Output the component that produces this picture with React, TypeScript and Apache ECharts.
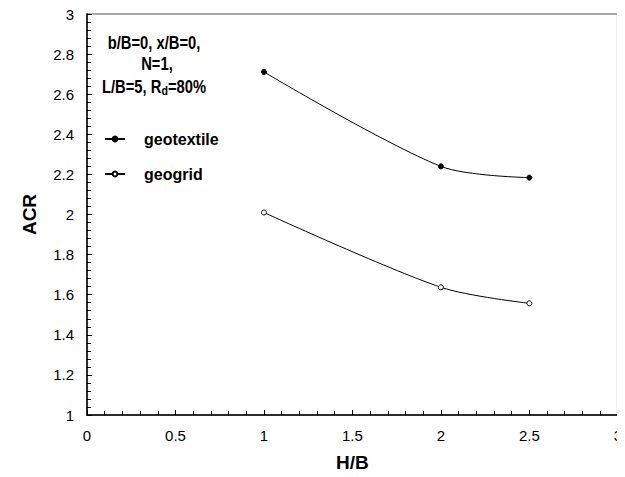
import React, { useEffect, useRef } from "react";
import * as echarts from "echarts";

const xValues = [1, 2, 2.5];
const geotextile = [2.711, 2.24, 2.184];
const geogrid = [2.01, 1.637, 1.557];
const seriesNames = ["geotextile", "geogrid"];

const FONT = "'Liberation Sans', Arial, sans-serif";

export default function App() {
  const ref = useRef<HTMLDivElement>(null);
  useEffect(() => {
    if (!ref.current) return;
    const chart = echarts.init(ref.current, undefined, { renderer: "svg" });
    const toPairs = (ys: number[]) => xValues.map((x, i) => [x, ys[i]]);
    const annot = { fontSize: 18, fontWeight: "bold", fill: "#000", fontFamily: FONT };
    chart.setOption({
      animation: false,
      backgroundColor: "#fff",
      textStyle: { fontFamily: FONT },
      grid: {
        left: 87,
        right: 2,
        top: 14,
        bottom: 61,
        show: true,
        borderColor: "#a8a8a8",
        borderWidth: 2,
      },
      xAxis: {
        type: "value",
        min: 0,
        max: 3,
        interval: 0.5,
        name: "H/B",
        nameLocation: "middle",
        nameGap: 38,
        nameTextStyle: { fontSize: 19, fontWeight: "bold", color: "#000", fontFamily: FONT },
        axisLine: { lineStyle: { color: "#000", width: 1.5 } },
        axisTick: { inside: true, length: 5, lineStyle: { color: "#000" } },
        minorTick: { show: true, splitNumber: 5, length: 4, lineStyle: { color: "#000" } },
        splitLine: { show: false },
        axisLabel: { fontSize: 15, color: "#000", margin: 13, fontFamily: FONT },
      },
      yAxis: {
        type: "value",
        min: 1,
        max: 3,
        interval: 0.2,
        name: "ACR",
        nameLocation: "middle",
        nameGap: 48,
        nameTextStyle: { fontSize: 19, fontWeight: "bold", color: "#000", fontFamily: FONT },
        axisLine: { lineStyle: { color: "#000", width: 1.5 } },
        axisTick: { inside: true, length: 5, lineStyle: { color: "#000" } },
        minorTick: { show: true, splitNumber: 5, length: 4, lineStyle: { color: "#000" } },
        splitLine: { show: false },
        axisLabel: {
          fontSize: 15,
          color: "#000",
          margin: 13,
          fontFamily: FONT,
          formatter: (v: number) => String(Math.round(v * 10) / 10),
        },
      },
      legend: {
        orient: "vertical",
        left: 99,
        top: 126,
        itemGap: 19,
        itemWidth: 20,
        itemHeight: 6,
        textStyle: { fontSize: 16, fontWeight: "bold", color: "#000", fontFamily: FONT, padding: [0, 0, 0, 14] },
        data: seriesNames,
      },
      graphic: [
        {
          type: "text",
          x: 154,
          y: 42,
          scaleX: 0.82,
          style: { ...annot, text: "b/B=0, x/B=0,", align: "center", verticalAlign: "middle" },
        },
        {
          type: "text",
          x: 157,
          y: 63,
          scaleX: 0.82,
          style: { ...annot, text: "N=1,", align: "center", verticalAlign: "middle" },
        },
        {
          type: "text",
          x: 154,
          y: 86,
          scaleX: 0.82,
          style: {
            text: "{a|L/B=5, R}{s|d}{a|=80%}",
            align: "center",
            verticalAlign: "middle",
            fill: "#000",
            rich: {
              a: { fontSize: 18, fontWeight: "bold", fill: "#000", fontFamily: FONT },
              s: { fontSize: 13, fontWeight: "bold", fill: "#000", fontFamily: FONT, padding: [9, 0, 0, 0] },
            },
          },
        },
      ],
      series: [
        {
          name: seriesNames[0],
          type: "line",
          data: toPairs(geotextile),
          smooth: 0.3,
          symbol: "circle",
          symbolSize: 5,
          lineStyle: { color: "#000", width: 1 },
          itemStyle: { color: "#000", borderColor: "#000", borderWidth: 1 },
        },
        {
          name: seriesNames[1],
          type: "line",
          data: toPairs(geogrid),
          smooth: 0.3,
          symbol: "circle",
          symbolSize: 5,
          lineStyle: { color: "#000", width: 1 },
          itemStyle: { color: "#fff", borderColor: "#000", borderWidth: 1 },
        },
      ],
    });
    return () => chart.dispose();
  }, []);
  return <div ref={ref} style={{ width: 625, height: 477, margin: -8 }} />;
}
